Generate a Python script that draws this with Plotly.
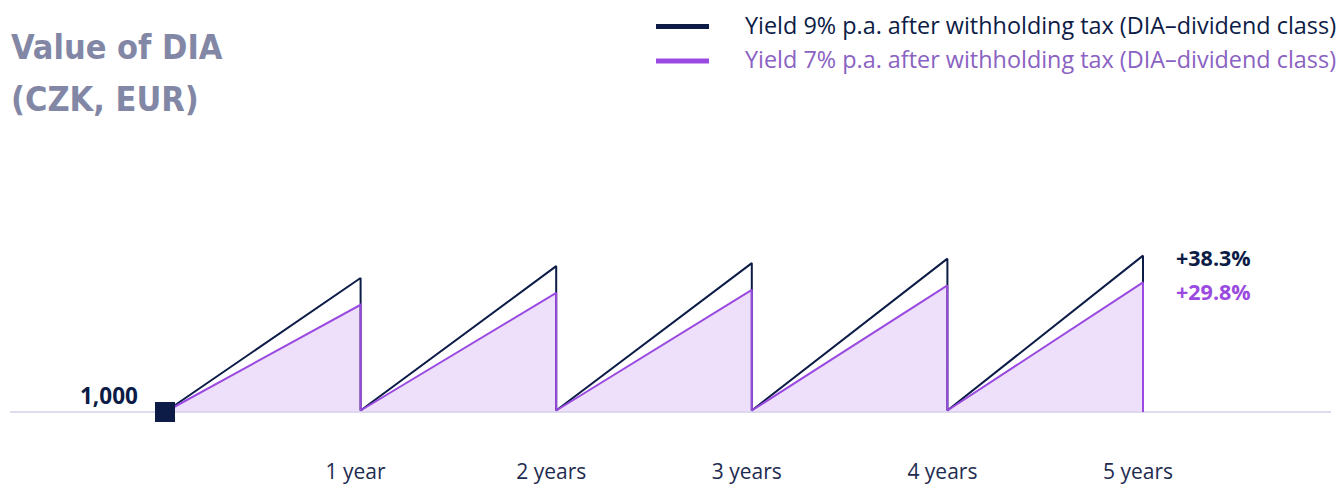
import plotly.graph_objects as go

# ---- data ----
years = [0, 1, 2, 3, 4, 5]
start_value = 1000
trough_value = 1001
peaks_9 = [1090, 1098, 1100, 1103, 1105]
peaks_7 = [1072, 1080, 1082, 1085, 1087]
tick_labels = ["1 year", "2 years", "3 years", "4 years", "5 years"]
series_names = ["Yield 9% p.a. after withholding tax (DIA\u2013dividend class)",
                "Yield 7% p.a. after withholding tax (DIA\u2013dividend class)"]
end_labels = ["+38.3%", "+29.8%"]
start_label = "1,000"
title_lines = ["Value of DIA", "(CZK, EUR)"]

NAVY = "#0c1c46"
PURPLE = "#9a4ae0"
PURPLE_TXT = "#8a62c2"
FILL = "rgba(226,203,246,0.6)"
FONT = "Open Sans"
TITLE_FONT = "Liberation Sans Narrow, DejaVu Sans Condensed, DejaVu Sans"

OFF = 8  # page body margin
W, H = 1344 - OFF, 487 - OFF


def sawtooth(peaks):
    xs, ys = [years[0]], [start_value]
    for i, p in enumerate(peaks):
        xs.append(years[i + 1]); ys.append(p)
        xs.append(years[i + 1]); ys.append(trough_value if i < len(peaks) - 1 else start_value)
    return xs, ys


x9, y9 = sawtooth(peaks_9)
x7, y7 = sawtooth(peaks_7)

fig = go.Figure()
fig.add_trace(go.Scatter(x=x7 + [years[0]], y=y7 + [start_value], mode="lines",
                         fill="toself", fillcolor=FILL, line=dict(width=0),
                         hoverinfo="skip", showlegend=False))
fig.add_trace(go.Scatter(x=x9, y=y9, mode="lines", name=series_names[0],
                         line=dict(color=NAVY, width=2), showlegend=False))
fig.add_trace(go.Scatter(x=x7, y=y7, mode="lines", name=series_names[1],
                         line=dict(color=PURPLE, width=2), showlegend=False))
fig.add_trace(go.Scatter(x=[years[0]], y=[start_value], mode="markers",
                         marker=dict(symbol="square", size=20, color=NAVY),
                         showlegend=False, hoverinfo="skip"))

# pixel geometry (figure coords = screen - OFF)
bottom_px = 449
x0_px, x5_px = 165 - OFF, 1143 - OFF
base_px = 412 - OFF
px_per_year = (x5_px - x0_px) / 5
px_per_unit = 1.489
x_lo = -x0_px / px_per_year
x_hi = (W - x0_px) / px_per_year
y_hi = start_value + base_px / px_per_unit
y_lo = start_value - (bottom_px - base_px) / px_per_unit

fig.update_xaxes(range=[x_lo, x_hi], showgrid=False, zeroline=False, showline=False,
                 tickmode="array", tickvals=years[1:], ticktext=tick_labels, ticks="",
                 ticklabelshift=-5, automargin=False,
                 tickfont=dict(family=FONT, size=21, color="#1e2b50"))
fig.update_yaxes(range=[y_lo, y_hi], showgrid=False, zeroline=False, showline=False,
                 showticklabels=False, automargin=False)

fig.add_shape(type="line", xref="paper", yref="y", x0=(10 - OFF) / W, x1=(1331 - OFF) / W,
              y0=start_value, y1=start_value, line=dict(color="#d2cfe8", width=1.5),
              layer="below")


def px(xs):
    return (xs - OFF) / W


def py(ys):
    return 1 - (ys - OFF) / bottom_px


annotations = []
title_y = [47, 99]
for i, t in enumerate(title_lines):
    annotations.append(dict(xref="paper", yref="paper", x=px(9), y=py(title_y[i]),
                            xanchor="left", yanchor="middle", showarrow=False,
                            text="<b>" + t + "</b>",
                            font=dict(family=TITLE_FONT, size=34, color="#8387a6")))
legend_line_y = [26.5, 61]
legend_text_y = [25, 58.5]
legend_cols = [NAVY, PURPLE]
legend_txt_cols = [NAVY, PURPLE_TXT]
for i in range(2):
    fig.add_shape(type="line", xref="paper", yref="paper", x0=px(656), x1=px(709),
                  y0=py(legend_line_y[i]), y1=py(legend_line_y[i]),
                  line=dict(color=legend_cols[i], width=5))
    annotations.append(dict(xref="paper", yref="paper", x=px(743), y=py(legend_text_y[i]),
                            xanchor="left", yanchor="middle", showarrow=False,
                            text=series_names[i],
                            font=dict(family=FONT, size=23.4, color=legend_txt_cols[i])))
end_y = [257, 291.5]
end_cols = [NAVY, PURPLE]
for i in range(2):
    annotations.append(dict(xref="paper", yref="paper", x=px(1174), y=py(end_y[i]),
                            xanchor="left", yanchor="middle", showarrow=False,
                            text="<b>" + end_labels[i] + "</b>",
                            font=dict(family=FONT, size=21.5, color=end_cols[i])))
annotations.append(dict(xref="paper", yref="paper", x=px(140), y=py(395.5),
                        xanchor="right", yanchor="middle", showarrow=False,
                        text="<b>" + start_label + "</b>",
                        font=dict(family=FONT, size=22.5, color=NAVY)))

fig.update_layout(width=W, height=H,
                  margin=dict(l=0, r=0, t=0, b=H - bottom_px, autoexpand=False),
                  paper_bgcolor="white", plot_bgcolor="white", annotations=annotations,
                  showlegend=False)

fig.write_html("out.html")
